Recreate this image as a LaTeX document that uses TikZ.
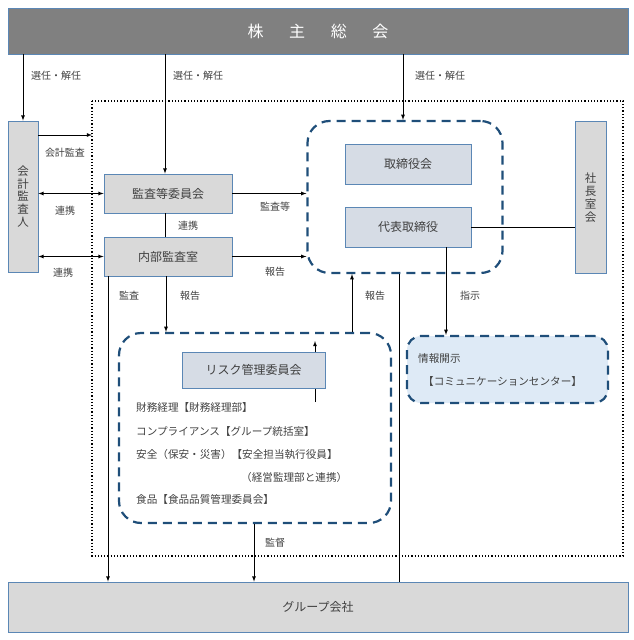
\documentclass[tikz,border=0pt]{standalone}
\usepackage{fontspec}
\setmainfont{Noto Sans CJK JP}
\usepackage{tikz}
\usetikzlibrary{positioning,calc}
\definecolor{boxGray}{HTML}{D9D9D9}
\definecolor{boxBlue}{HTML}{D6DCE5}
\definecolor{edgeBlue}{HTML}{5B87B5}
\definecolor{navy}{HTML}{1F4E79}
\definecolor{infoBlue}{HTML}{DEEAF6}
\colorlet{txtGray}{black!75}
\tikzset{
  box/.style={draw=edgeBlue, fill=boxGray, line width=0.8pt, text=txtGray, font=\fontsize{12}{13}\selectfont, inner sep=0pt},
  bluebox/.style={box, fill=boxBlue},
  grp/.style={draw=navy, line width=2.2pt, dash pattern=on 9pt off 6pt, rounded corners=22pt, inner sep=0pt},
  lbl/.style={text=txtGray, font=\fontsize{10}{11}\selectfont, inner sep=1pt},
  item/.style={lbl, anchor=west, font=\fontsize{10.6}{12}\selectfont},
  conn/.style={line width=0.8pt},
}
\begin{document}
\begin{tikzpicture}[x=1pt, y=-1pt, >=latex]
\useasboundingbox (0,0) rectangle (633,640);
% frame of the company
\draw[line width=1.2pt, dotted] (92,101) rectangle (623,556);
% boxes
\node[box, fill=gray, minimum width=620pt, minimum height=46pt, text=white, font=\fontsize{16}{17}\selectfont] (share) at (318,31) {株\hspace{1.6em}主\hspace{1.6em}総\hspace{1.6em}会};
\node[box, minimum width=30pt, minimum height=151pt, align=center, font=\fontsize{11.5}{12.8}\selectfont] (auditor) at (23,196.5) {会\\計\\監\\査\\人};
\node[box, minimum width=128pt, minimum height=39pt] (kansa) at (168,193.5) {監査等委員会};
\node[box, minimum width=128pt, minimum height=39pt] (naibu) at (168,256.5) {内部監査室};
\node[grp, minimum width=195pt, minimum height=152pt] (board) at (405,197) {};
\node[bluebox, minimum width=126pt, minimum height=40pt] (torishimari) at (408,164) {取締役会};
\node[bluebox, minimum width=126pt, minimum height=40pt] (daihyo) at (408,227) {代表取締役};
\node[box, minimum width=31pt, minimum height=152pt, align=center, font=\fontsize{11.5}{13}\selectfont] (shacho) at (590.5,197.5) {社\\長\\室\\会};
\node[grp, minimum width=272pt, minimum height=190pt] (risk) at (255,428) {};
\coordinate (rk1) at (315,402);
\coordinate (rk2) at (315,341);
\draw[conn, ->] (rk1) -- (rk2);
\node[bluebox, minimum width=143pt, minimum height=36pt] (riskc) at (253.5,370) {リスク管理委員会};
\node[item] (r1) at (135,407) {財務経理【財務経理部】};
\node[item] (r2) at (135,431) {コンプライアンス【グループ統括室】};
\node[item] (r3) at (135,454) {安全（保安・災害）【安全担当執行役員】};
\node[item] (r4) at (240,477) {（経営監理部と連携）};
\node[item] (r5) at (135,499) {食品【食品品質管理委員会】};
\node[grp, fill=infoBlue, rounded corners=14pt, minimum width=201pt, minimum height=67pt] (joho) at (507.5,369.5) {};
\node[item] (j1) at (417,358) {情報開示};
\node[item] (j2) at (422,381) {【コミュニケーションセンター】};
\node[box, minimum width=620pt, minimum height=50pt] (group) at (318,607) {グループ会社};
% connectors
\draw[conn, ->] (share.south -| auditor) -- (auditor.north);
\draw[conn, ->] ([xshift=-3pt]share.south -| kansa) -- ([xshift=-3pt]kansa.north);
\draw[conn, ->] ([xshift=-2pt]share.south -| board) -- ([xshift=-2pt]board.north);
\node[lbl] (l1) at (56,76) {選任・解任};
\node[lbl] (l2) at (198,76) {選任・解任};
\node[lbl] (l3) at (440,76) {選任・解任};
\coordinate (fr1) at (92,135);
\draw[conn, ->] (auditor.east |- fr1) -- (fr1);
\node[lbl] (l4) at (65,153) {会計監査};
\draw[conn, <->] (auditor.east |- kansa) -- (kansa.west);
\node[lbl] (l5) at (65,211) {連携};
\draw[conn, <->] (auditor.east |- naibu) -- (naibu.west);
\node[lbl] (l6) at (63,273) {連携};
\draw[conn] ([xshift=-3pt]kansa.south) -- ([xshift=-3pt]naibu.north);
\node[lbl] (l7) at (188,226) {連携};
\draw[conn, ->] (kansa.east) -- (kansa.east -| board.west);
\node[lbl] (l8) at (275,207) {監査等};
\draw[conn, ->] (naibu.east) -- (naibu.east -| board.west);
\node[lbl] (l9) at (275,272) {報告};
\draw[conn] (daihyo.east) -- (daihyo.east -| shacho.west);
\draw[conn, ->] ([xshift=38pt]daihyo.south) -- ([xshift=38pt]daihyo.south |- joho.north);
\node[lbl] (l10) at (470,296) {指示};
\draw[conn, ->] ([xshift=97pt]risk.north) -- ([xshift=97pt]risk.north |- board.south);
\node[lbl] (l11) at (375,296) {報告};
\draw[conn] ([xshift=-6pt]board.south) -- ([xshift=-6pt]board.south |- group.north);
\draw[conn, ->] ([xshift=-2pt]naibu.south) -- ([xshift=-2pt]naibu.south |- risk.north);
\node[lbl] (l12) at (190,296) {報告};
\draw[conn, ->] ([xshift=-60pt]naibu.south) -- ([xshift=-60pt]naibu.south |- group.north);
\node[lbl] (l13) at (129,296) {監査};
\draw[conn, ->] ([xshift=-1pt]risk.south) -- ([xshift=-1pt]risk.south |- group.north);
\node[lbl] (l14) at (275,543) {監督};
\end{tikzpicture}
\end{document}
